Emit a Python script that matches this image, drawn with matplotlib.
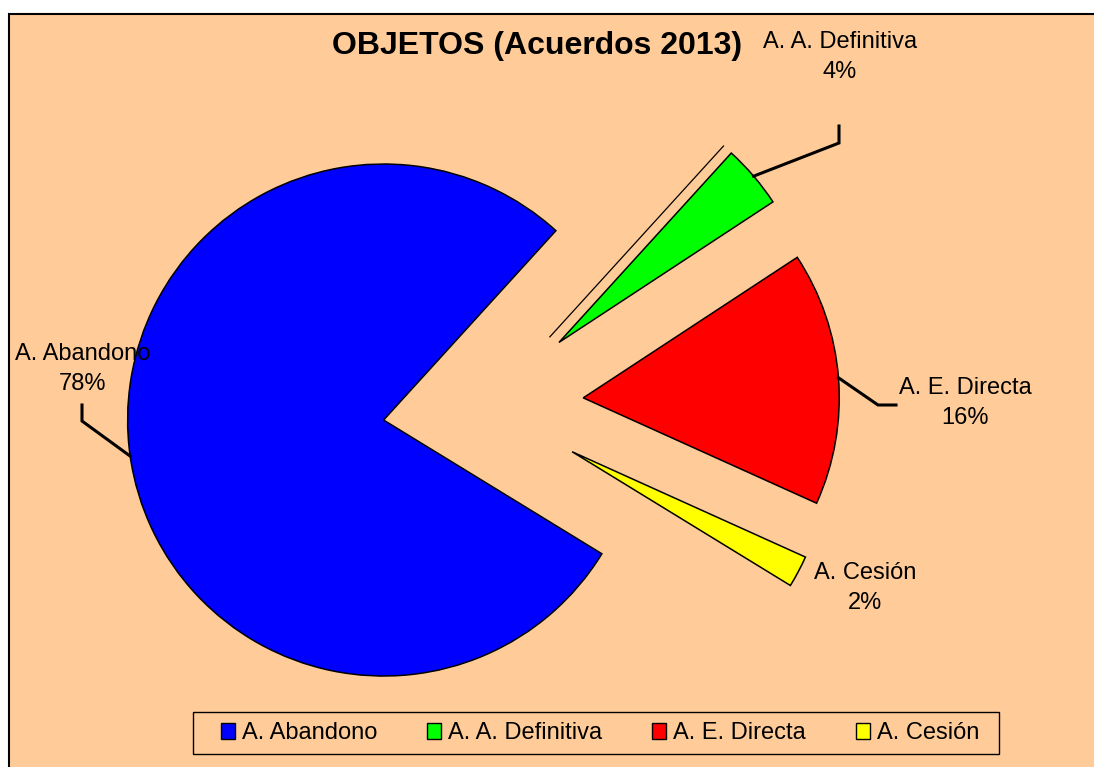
import numpy as np
import matplotlib
matplotlib.use('Agg')
import matplotlib.pyplot as plt
import matplotlib.patches as patches

plt.rcParams['font.family'] = ['Liberation Sans', 'DejaVu Sans']

# datos del gráfico
categorias = ['A. Abandono', 'A. A. Definitiva', 'A. E. Directa', 'A. Cesión']
porcentajes = [78, 4, 16, 2]
colores = ['#0000FF', '#00FF00', '#FF0000', '#FFFF00']
titulo = 'OBJETOS (Acuerdos 2013)'

W, H = 1094, 767
FONDO = '#FFCC99'
RADIO = 256


def px(x, y):
    # coordenadas de pixel (origen arriba) -> coordenadas de datos
    return x, H - y


fig = plt.figure(figsize=(W / 100, H / 100), dpi=100, facecolor='white')
ax = fig.add_axes([0, 0, 1, 1])

# área del gráfico
ax.add_patch(patches.Rectangle(px(8.5, 790), 1200, 790 - 14, facecolor=FONDO,
                               edgecolor='black', linewidth=1.5, zorder=0))

# en matplotlib el explode va en unidades de datos, no relativo al radio
separacion = [RADIO * f for f in (0.40, 0.38, 0.385, 0.385)]
wedges, _ = ax.pie(porcentajes, colors=colores, radius=RADIO, center=px(485, 405.6),
                   startangle=-31.5, counterclock=False, explode=separacion,
                   wedgeprops=dict(edgecolor='black', linewidth=1.1))
ax.set_xlim(0, W)
ax.set_ylim(0, H)
ax.axis('off')

# línea paralela junto a la porción verde
g = wedges[1]
ang = np.deg2rad(g.theta2)
d = np.array([np.cos(ang), np.sin(ang)])
perp = np.array([-np.sin(ang), np.cos(ang)])
p0 = np.array(g.center) + perp * 10.5 - d * 2
p1 = np.array(g.center) + perp * 10.5 + d * RADIO
ax.plot([p0[0], p1[0]], [p0[1], p1[1]], color='black', linewidth=0.9)

# etiquetas: posición del texto y puntos del conector (codo, final)
etiquetas = [
    ('A. Abandono\n78%', (83, 369), [(82, 421), (82, 405)]),
    ('A. A. Definitiva\n4%', (840, 57), [(839, 143), (839, 126)]),
    ('A. E. Directa\n16%', (965, 403), [(878, 405), (896, 405)]),
    ('A. Cesión\n2%', (865, 588), None),
]

for w, (texto, pos, conector) in zip(wedges, etiquetas):
    ax.text(*px(*pos), texto, ha='center', va='center', fontsize=17,
            linespacing=1.45, zorder=5)
    if conector:
        mid = np.deg2rad((w.theta1 + w.theta2) / 2)
        x0 = w.center[0] + w.r * np.cos(mid)
        y0 = w.center[1] + w.r * np.sin(mid)
        xs = [x0] + [px(*p)[0] for p in conector]
        ys = [y0] + [px(*p)[1] for p in conector]
        ax.plot(xs, ys, color='black', linewidth=2.2, solid_joinstyle='miter')

ax.text(*px(537, 46), titulo, ha='center', va='center', fontsize=23,
        fontweight='bold')

# leyenda
ax.add_patch(patches.Rectangle(px(193, 754), 999 - 193, 754 - 712,
                               facecolor='none', edgecolor='black',
                               linewidth=1.0, zorder=4))
handles = [patches.Patch(facecolor=c, edgecolor='black', linewidth=1.0)
           for c in colores]
fig.legend(handles, categorias, loc='center', ncol=4, frameon=False,
           bbox_to_anchor=(600 / W, 1 - 733 / H), fontsize=17,
           handlelength=0.6, handleheight=0.65, handletextpad=0.3,
           columnspacing=2.1, borderpad=0.2)

fig.savefig('out.png', dpi=100, facecolor='white')
